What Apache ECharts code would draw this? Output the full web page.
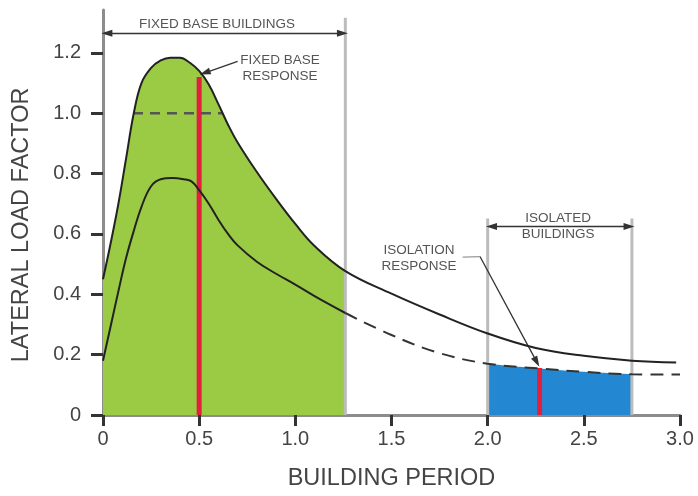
<!DOCTYPE html>
<html><head><meta charset="utf-8">
<script src="https://cdn.jsdelivr.net/npm/echarts@6/dist/echarts.min.js"></script>
<style>html,body{margin:0;padding:0;background:#fff}#c{width:698px;height:496px}</style>
</head><body><div id="c"></div>
<script>
// ---- data ----
const xTicks = [0, 0.5, 1.0, 1.5, 2.0, 2.5, 3.0];
const yTicks = [0, 0.2, 0.4, 0.6, 0.8, 1.0, 1.2];
const xAxisTitle = 'BUILDING PERIOD';
const yAxisTitle = 'LATERAL LOAD FACTOR';

// upper (fixed base) spectrum
const upperX = [0, 0.04, 0.08, 0.12, 0.16, 0.20, 0.25, 0.30, 0.35, 0.40, 0.45, 0.50, 0.55, 0.60, 0.65, 0.70, 0.80, 0.90, 1.0, 1.1, 1.26, 1.5, 1.75, 2.0, 2.25, 2.5, 2.75, 2.98];
const upperY = [0.45, 0.57, 0.70, 0.85, 1.0, 1.10, 1.15, 1.175, 1.184, 1.184, 1.168, 1.14, 1.095, 1.03, 0.962, 0.903, 0.805, 0.716, 0.633, 0.56, 0.477, 0.402, 0.333, 0.27, 0.222, 0.196, 0.18, 0.174];

// lower spectrum, solid part
const lowerX = [0, 0.04, 0.08, 0.12, 0.16, 0.20, 0.25, 0.30, 0.36, 0.42, 0.46, 0.50, 0.55, 0.60, 0.65, 0.70, 0.80, 0.90, 1.0, 1.1, 1.26];
const lowerY = [0.18, 0.295, 0.41, 0.52, 0.61, 0.69, 0.758, 0.781, 0.785, 0.781, 0.774, 0.745, 0.70, 0.647, 0.60, 0.562, 0.508, 0.468, 0.432, 0.394, 0.338];
// lower spectrum, dashed part
const lowerDashX = [1.26, 1.5, 1.75, 2.0, 2.27, 2.5, 2.75, 3.0];
const lowerDashY = [0.338, 0.265, 0.205, 0.17, 0.154, 0.143, 0.135, 0.134];

// ranges
const fixedRange = [0, 1.26];
const isolatedRange = [2.0, 2.75];
const rangeLineX = [1.26, 2.0, 2.75];
const rangeLineTops = [1.316, 0.651, 0.651];

// responses
const responseX = [0.5, 2.27];
const responseY = [1.12, 0.156];

// dashed 1.0 line
const refLineX = [0.156, 0.62];
const refLineY = 1.0;

// annotation texts
const txtFixedBuildings = 'FIXED BASE BUILDINGS';
const txtFixedResponse = 'FIXED BASE\nRESPONSE';
const txtIsoResponse = 'ISOLATION\nRESPONSE';
const txtIsoBuildings = 'ISOLATED\nBUILDINGS';

// ---- build ----
const zip = (xs, ys) => xs.map((x, i) => [x, ys[i]]);
const upper = zip(upperX, upperY);
const lowerSolid = zip(lowerX, lowerY);
const lowerDash = zip(lowerDashX, lowerDashY);
const greenArea = upper.filter(p => p[0] >= fixedRange[0] && p[0] <= fixedRange[1] + 1e-9);
const blueArea = lowerDash.filter(p => p[0] >= isolatedRange[0] - 1e-9 && p[0] <= isolatedRange[1] + 1e-9);

const fmt = v => (Math.abs(v) < 1e-9 ? '0' : v.toFixed(1));
const FF = 'Liberation Sans, Arial, sans-serif';
const axisFont = {fontFamily: FF, color: '#444', fontSize: 20};
const SM = 0.4;

const series = [];
series.push({type: 'line', data: greenArea, smooth: SM, showSymbol: false, silent: true, z: 1,
  lineStyle: {width: 0}, areaStyle: {color: '#9bcb45', opacity: 1}});
series.push({type: 'line', data: blueArea, smooth: SM, showSymbol: false, silent: true, z: 1,
  lineStyle: {width: 0}, areaStyle: {color: '#2388d1', opacity: 1}});
rangeLineX.forEach((x, i) => series.push({type: 'line', data: [[x, 0], [x, rangeLineTops[i]]], showSymbol: false, silent: true, z: 2,
  lineStyle: {color: '#bcbcbc', width: 3}}));
responseX.forEach((x, i) => series.push({type: 'line', data: [[x, 0], [x, responseY[i]]], showSymbol: false, silent: true, z: 3,
  lineStyle: {color: '#e2203e', width: 5}}));
series.push({type: 'line', data: [[refLineX[0], refLineY], [refLineX[1], refLineY]], showSymbol: false, silent: true, z: 4,
  lineStyle: {color: '#555', width: 2.5, type: [10, 7]}});
series.push({type: 'line', data: upper, smooth: SM, showSymbol: false, silent: true, z: 5,
  lineStyle: {color: '#222', width: 2}});
series.push({type: 'line', data: lowerSolid, smooth: SM, showSymbol: false, silent: true, z: 5,
  lineStyle: {color: '#222', width: 2}});
series.push({type: 'line', data: lowerDash, smooth: SM, showSymbol: false, silent: true, z: 5,
  lineStyle: {color: '#333', width: 2, type: [13, 8]}});

// arrows via markLine
const arrowStyle = {color: '#333', width: 1.3, type: 'solid'};
series.push({type: 'line', data: [], silent: true, z: 6,
  markLine: {silent: true, animation: false, label: {show: false}, symbol: ['triangle', 'triangle'], symbolSize: [7, 11],
    lineStyle: arrowStyle, emphasis: {disabled: true},
    data: [
      [{coord: [0.02, 1.265]}, {coord: [1.245, 1.265]}],
      [{coord: [2.02, 0.625]}, {coord: [2.735, 0.625]}]
    ]}});
series.push({type: 'line', data: [], silent: true, z: 6,
  markLine: {silent: true, animation: false, label: {show: false}, symbol: ['none', 'triangle'], symbolSize: [7, 11],
    lineStyle: arrowStyle, emphasis: {disabled: true},
    data: [
      [{coord: [0.70, 1.172]}, {coord: [0.53, 1.134]}],
      [{coord: [1.96, 0.525]}, {coord: [2.255, 0.176]}]
    ]}});
series.push({type: 'line', data: [], silent: true, z: 6,
  markLine: {silent: true, animation: false, label: {show: false}, symbol: ['none', 'none'],
    lineStyle: {color: '#999', width: 1.3, type: 'solid'}, emphasis: {disabled: true},
    data: [[{coord: [1.87, 0.523]}, {coord: [1.96, 0.525]}]]}});

const chart = echarts.init(document.getElementById('c'), null, {renderer: 'canvas'});
chart.setOption({
  animation: false,
  backgroundColor: '#fff',
  grid: {left: 103, right: 18, top: 10, bottom: 78, containLabel: false},
  xAxis: {
    type: 'value', min: 0, max: 3, interval: 0.5,
    name: xAxisTitle, nameLocation: 'middle', nameGap: 52,
    nameTextStyle: {fontFamily: FF, color: '#444', fontSize: 23.5},
    axisLine: {show: true, lineStyle: {color: '#8c8c8c', width: 3}},
    axisTick: {show: true, length: 11, customValues: xTicks, lineStyle: {color: '#333', width: 3}},
    axisLabel: Object.assign({margin: 14, formatter: fmt, customValues: xTicks}, axisFont),
    splitLine: {show: false}
  },
  yAxis: {
    type: 'value', min: 0, max: 1.342,
    axisLine: {show: true, lineStyle: {color: '#8c8c8c', width: 3}},
    axisTick: {show: true, length: 12, customValues: yTicks, lineStyle: {color: '#333', width: 3}},
    axisLabel: Object.assign({margin: 22, formatter: fmt, customValues: yTicks}, axisFont),
    splitLine: {show: false}
  },
  series: series
});

// annotation texts placed in data coordinates
const P = (x, y) => chart.convertToPixel({xAxisIndex: 0, yAxisIndex: 0}, [x, y]);
const tStyle = {fontFamily: FF, fontSize: 13.5, fill: '#555', align: 'center', verticalAlign: 'middle', lineHeight: 16};
const mk = (text, x, y) => {
  const p = P(x, y);
  return {type: 'text', x: p[0], y: p[1], z: 100, silent: true, style: Object.assign({text: text}, tStyle)};
};
const yMid = P(0, 0.63);
chart.setOption({graphic: [
  mk(txtFixedBuildings, 0.593, 1.296),
  mk(txtFixedResponse, 0.92, 1.148),
  mk(txtIsoResponse, 1.643, 0.52),
  mk(txtIsoBuildings, 2.366, 0.625),
  {type: 'text', x: 22, y: yMid[1], rotation: Math.PI / 2, z: 100, silent: true,
    style: {text: yAxisTitle, fontFamily: FF, fontSize: 23.5, fill: '#444', align: 'center', verticalAlign: 'middle'}}
]});
</script>
</body></html>
